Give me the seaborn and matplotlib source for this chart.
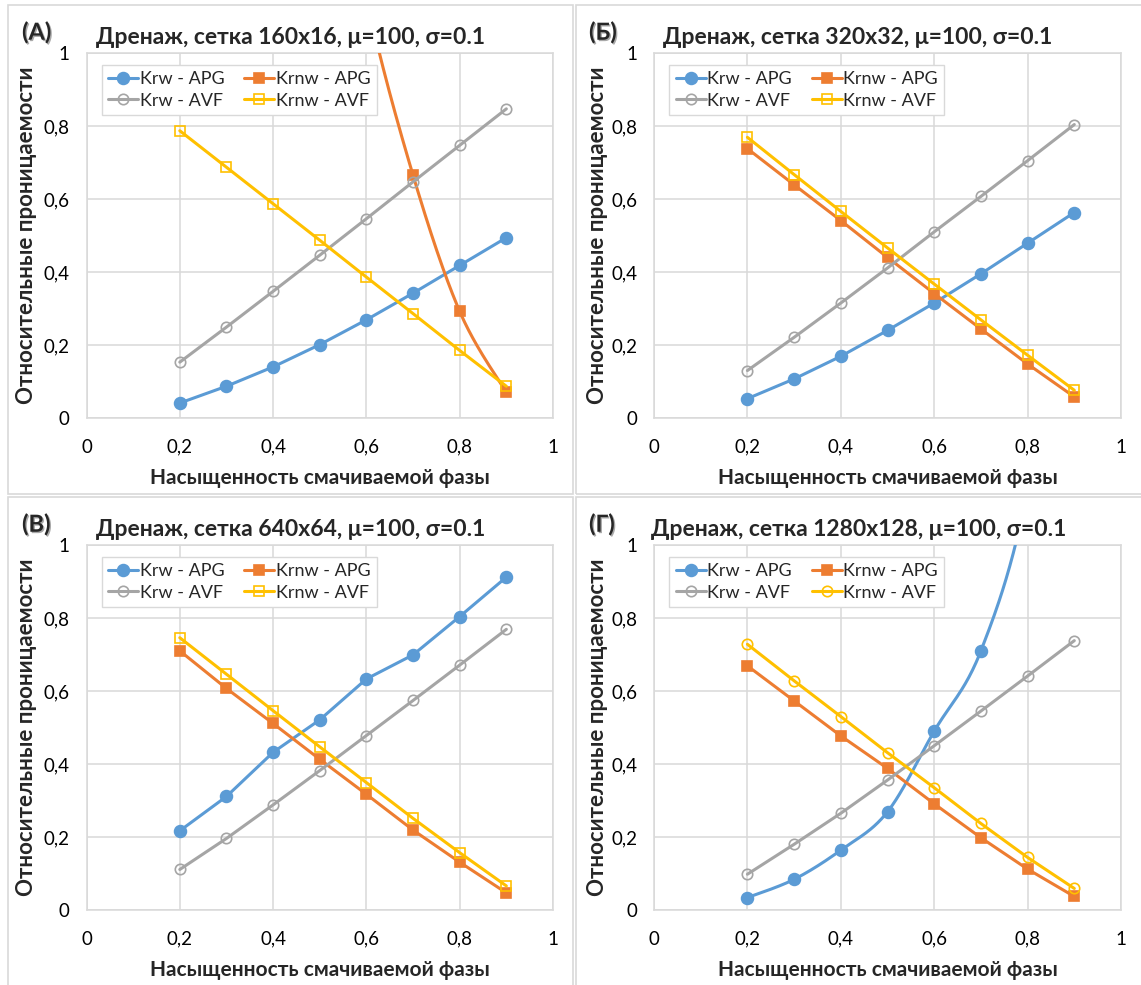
import numpy as np
import pandas as pd
import matplotlib
matplotlib.use("Agg")
import matplotlib.pyplot as plt
import seaborn as sns
from matplotlib.lines import Line2D
from matplotlib.patches import Rectangle
import matplotlib.patheffects as pe

# ---------------- data ----------------
sat = [0.2, 0.3, 0.4, 0.5, 0.6, 0.7, 0.8, 0.9]

# (А) 160x16
a_krw_apg = [0.041, 0.087, 0.140, 0.201, 0.269, 0.342, 0.418, 0.494]
a_krnw_apg = [4.5, 3.5, 2.6, 1.8, 1.15, 0.665, 0.292, 0.070]
a_krw_avf = [0.153, 0.249, 0.347, 0.446, 0.546, 0.647, 0.747, 0.847]
a_krnw_avf = [0.787, 0.687, 0.587, 0.487, 0.386, 0.286, 0.185, 0.087]

# (Б) 320x32
b_krw_apg = [0.053, 0.107, 0.169, 0.240, 0.315, 0.395, 0.479, 0.563]
b_krnw_apg = [0.738, 0.639, 0.541, 0.440, 0.341, 0.244, 0.148, 0.058]
b_krw_avf = [0.130, 0.221, 0.315, 0.411, 0.510, 0.607, 0.705, 0.804]
b_krnw_avf = [0.769, 0.667, 0.566, 0.466, 0.367, 0.269, 0.172, 0.076]

# (В) 640x64
c_krw_apg = [0.217, 0.311, 0.432, 0.521, 0.633, 0.699, 0.804, 0.912]
c_krnw_apg = [0.710, 0.607, 0.511, 0.413, 0.317, 0.219, 0.131, 0.047]
c_krw_avf = [0.111, 0.196, 0.288, 0.382, 0.478, 0.574, 0.671, 0.769]
c_krnw_avf = [0.746, 0.646, 0.546, 0.447, 0.349, 0.251, 0.157, 0.066]

# (Г) 1280x128
d_krw_apg = [0.034, 0.084, 0.164, 0.269, 0.490, 0.710, 1.15, 2.0]
d_krnw_apg = [0.669, 0.573, 0.477, 0.388, 0.291, 0.198, 0.112, 0.037]
d_krw_avf = [0.098, 0.180, 0.265, 0.356, 0.450, 0.545, 0.641, 0.738]
d_krnw_avf = [0.728, 0.628, 0.530, 0.431, 0.335, 0.237, 0.144, 0.059]

panel_labels = ["(А)", "(Б)", "(В)", "(Г)"]
titles = ["Дренаж, сетка 160x16, μ=100, σ=0.1",
          "Дренаж, сетка 320x32, μ=100, σ=0.1",
          "Дренаж, сетка 640x64, μ=100, σ=0.1",
          "Дренаж, сетка 1280x128, μ=100, σ=0.1"]
series_names = ["Krw - APG", "Krnw - APG", "Krw - AVF", "Krnw - AVF"]
xlabel = "Насыщенность смачиваемой фазы"
ylabel = "Относительные проницаемости"
ticks = [0, 0.2, 0.4, 0.6, 0.8, 1]

BLUE, ORANGE, GRAY, YELLOW = "#5B9BD5", "#ED7D31", "#A5A5A5", "#FFC000"
GRID = "#D9D9D9"

sns.set_theme(style="white")
plt.rcParams["font.family"] = ["Lato", "Noto Sans", "DejaVu Sans"]

W, H = 1141, 985
fig = plt.figure(figsize=(W / 100, H / 100), dpi=100)


def fx(x):
    return x / W


def fy(y):
    return 1 - y / H


def catmull(xs, ys, n=40):
    P = np.column_stack([xs, ys]).astype(float)
    P = np.vstack([P[0], P, P[-1]])
    out = []
    for i in range(1, len(P) - 2):
        p0, p1, p2, p3 = P[i - 1], P[i], P[i + 1], P[i + 2]
        c1 = p1 + (p2 - p0) / 6
        c2 = p2 - (p3 - p1) / 6
        t = np.linspace(0, 1, n)[:, None]
        seg = ((1 - t) ** 3) * p1 + 3 * ((1 - t) ** 2) * t * c1 + 3 * (1 - t) * t ** 2 * c2 + t ** 3 * p2
        out.append(seg if i == 1 else seg[1:])
    out = np.vstack(out)
    return out[:, 0], out[:, 1]


panels = [
    dict(data=[a_krw_apg, a_krnw_apg, a_krw_avf, a_krnw_avf], smooth=1, ymark="s",
         box=(86.5, 53, 553, 418), oy=0, tcx=291, lx=22, ylx=27, xlx=320),
    dict(data=[b_krw_apg, b_krnw_apg, b_krw_avf, b_krnw_avf], smooth=None, ymark="s",
         box=(654, 53, 1121, 418), oy=0, tcx=858, lx=589, ylx=597, xlx=888),
    dict(data=[c_krw_apg, c_krnw_apg, c_krw_avf, c_krnw_avf], smooth=None, ymark="s",
         box=(86.5, 545, 553, 910), oy=492, tcx=291, lx=22, ylx=27, xlx=320),
    dict(data=[d_krw_apg, d_krnw_apg, d_krw_avf, d_krnw_avf], smooth=0, ymark="o",
         box=(654, 545, 1121, 910), oy=492, tcx=859, lx=589, ylx=597, xlx=888),
]

# panel frames
frames = [(8, 5, 573, 494), (576, 5, 1145, 494), (8, 497, 573, 990), (576, 497, 1145, 990)]
for (x0, y0, x1, y1) in frames:
    fig.patches.append(Rectangle((fx(x0), fy(y1)), (x1 - x0) / W, (y1 - y0) / H,
                                 transform=fig.transFigure, fill=False,
                                 edgecolor=GRID, lw=1.2, zorder=0))

fmt = matplotlib.ticker.FuncFormatter(lambda v, p: f"{v:g}".replace(".", ","))

for k, pnl in enumerate(panels):
    x0, y0, x1, y1 = pnl["box"]
    ax = fig.add_axes([fx(x0), fy(y1), (x1 - x0) / W, (y1 - y0) / H])
    colors = [BLUE, ORANGE, GRAY, YELLOW]
    markers = ["o", "s", "o", pnl["ymark"]]
    filled = [True, True, False, False]
    msizes = [8.5, 7.5, 7.5, 7.5]
    handles = []
    for i, yv in enumerate(pnl["data"]):
        c, m, f, ms = colors[i], markers[i], filled[i], msizes[i]
        fc = c if f else "none"
        if pnl["smooth"] == i:
            sx, sy = catmull(sat, yv)
            sns.lineplot(x=sx, y=sy, ax=ax, color=c, lw=2.2, sort=False,
                         estimator=None, zorder=3 + i)
            sns.lineplot(x=sat, y=yv, ax=ax, color=c, lw=0, marker=m, markersize=ms,
                         markerfacecolor=fc, markeredgecolor=c, markeredgewidth=1.2,
                         sort=False, estimator=None, zorder=3 + i)
        else:
            sns.lineplot(x=sat, y=yv, ax=ax, color=c, lw=2.2, marker=m, markersize=ms,
                         markerfacecolor=fc, markeredgecolor=c, markeredgewidth=1.2,
                         sort=False, estimator=None, zorder=3 + i)
        handles.append(Line2D([], [], color=c, lw=2.2, marker=m, markersize=ms,
                              markerfacecolor=fc, markeredgecolor=c, markeredgewidth=1.2,
                              label=series_names[i]))
    ax.set_xlim(0, 1)
    ax.set_ylim(0, 1)
    ax.set_xticks(ticks)
    ax.set_yticks(ticks)
    ax.xaxis.set_major_formatter(fmt)
    ax.yaxis.set_major_formatter(fmt)
    ax.tick_params(axis="both", length=0, labelsize=13.5, colors="#000000")
    ax.tick_params(axis="x", pad=15)
    ax.tick_params(axis="y", pad=12)
    ax.grid(True, color=GRID, lw=1.1)
    ax.set_axisbelow(True)
    for s in ax.spines.values():
        s.set_color(GRID)
        s.set_linewidth(1.1)
    ax.set_xlabel("")
    ax.set_ylabel("")
    order = [handles[0], handles[2], handles[1], handles[3]]
    leg = ax.legend(handles=order, loc="upper left", bbox_to_anchor=(0.033, 0.967),
                    ncol=2, fontsize=13, frameon=True, fancybox=False,
                    edgecolor=GRID, framealpha=1, handlelength=1.65,
                    handletextpad=0.1, columnspacing=1.1, borderpad=0.35,
                    labelspacing=0.3, borderaxespad=0)
    leg.get_frame().set_linewidth(1.0)
    leg.set_zorder(20)

    oy = pnl["oy"]
    fig.text(fx(pnl["tcx"]), fy(oy + 37), titles[k], ha="center", va="center",
             fontsize=16.5, fontweight="bold")
    fig.text(fx(pnl["lx"]), fy(oy + 32), panel_labels[k], ha="left", va="center",
             fontsize=17, fontweight="bold",
             path_effects=[pe.withSimplePatchShadow(offset=(1, -1), alpha=0.35)])
    fig.text(fx(pnl["ylx"]), fy((y0 + y1) / 2), ylabel, ha="center", va="center",
             rotation=90, fontsize=16, fontweight="bold")
    fig.text(fx(pnl["xlx"]), fy(oy + 478 if oy == 0 else 970), xlabel, ha="center",
             va="center", fontsize=15, fontweight="bold")

fig.savefig("out.png", dpi=100)
